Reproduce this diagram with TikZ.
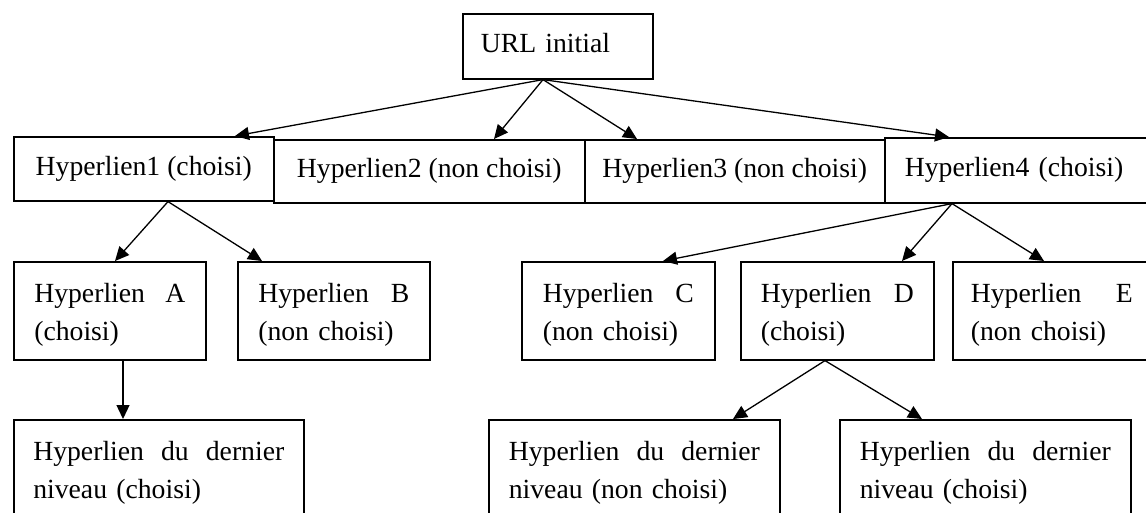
\documentclass[tikz,border=0pt]{standalone}
\usepackage{fontspec}
\setmainfont{Liberation Serif}
\usetikzlibrary{arrows.meta}

\tikzset{
  box/.style={draw, line width=1.6pt, rectangle, anchor=north west,
    inner xsep=0pt, inner ysep=0pt,
    font=\fontsize{27.7}{38}\selectfont},
  oneline/.style={box, text height=19pt, text depth=6pt},
  twoline/.style={box, text height=28pt, text depth=44pt, align=left},
  link/.style={line width=1.3pt, -{Triangle[length=14pt,width=13pt]}}
}

\begin{document}
\begin{tikzpicture}[x=1pt, y=-1pt]
\useasboundingbox (0,0) rectangle (1146,512);
\clip (0,0) rectangle (1146,512);

% root
\node[oneline, minimum width=190pt, minimum height=65pt, text width=154pt, align=left]
  (url) at (462,13) {URL initial};

% first level
\node[oneline, minimum width=260pt, minimum height=64pt] (h1) at (13,136) {Hyperlien1 (choisi)};
\node[oneline, minimum width=311pt, minimum height=63pt] (h2) at (273,139) {Hyperlien2 (non choisi)};
\node[oneline, minimum width=300pt, minimum height=63pt] (h3) at (584,139) {Hyperlien3 (non choisi)};
\node[oneline, minimum width=290pt, minimum height=65pt, text width=250pt, align=left]
  (h4) at (884,137) {Hyperlien4 (choisi)};

% second level
\node[twoline, minimum width=192pt, minimum height=98pt, text width=151pt] (a) at (13,261)
  {Hyperlien\hfill A\\(choisi)};
\node[twoline, minimum width=192pt, minimum height=98pt, text width=151pt] (b) at (237,261)
  {Hyperlien\hfill B\\(non choisi)};
\node[twoline, minimum width=193pt, minimum height=98pt, text width=151pt] (c) at (521,261)
  {Hyperlien\hfill C\\(non choisi)};
\node[twoline, minimum width=193pt, minimum height=98pt, text width=153pt] (d) at (740,261)
  {Hyperlien\hfill D\\(choisi)};
\node[twoline, minimum width=198pt, minimum height=98pt, text width=162pt] (e) at (952,261)
  {Hyperlien\hfill E\\(non choisi)};

% last level
\node[twoline, minimum width=290pt, minimum height=98pt, text width=251pt] (la) at (13,419)
  {Hyperlien\hfill du\hfill dernier\\niveau (choisi)};
\node[twoline, minimum width=291pt, minimum height=98pt, text width=251pt] (ld) at (488,419)
  {Hyperlien\hfill du\hfill dernier\\niveau (non choisi)};
\node[twoline, minimum width=291pt, minimum height=98pt, text width=251pt] (le) at (839,419)
  {Hyperlien\hfill du\hfill dernier\\niveau (choisi)};

% connectors
\draw[link] ([xshift=81pt]url.south west) -- ([xshift=222pt]h1.north west);
\draw[link] ([xshift=81pt]url.south west) -- ([xshift=221pt]h2.north west);
\draw[link] ([xshift=81pt]url.south west) -- ([xshift=53pt]h3.north west);
\draw[link] ([xshift=81pt]url.south west) -- ([xshift=65pt]h4.north west);

\draw[link] ([xshift=155pt]h1.south west) -- ([xshift=102pt]a.north west);
\draw[link] ([xshift=155pt]h1.south west) -- ([xshift=25pt]b.north west);
\draw[link] ([xshift=110pt]a.south west) -- ([xshift=110pt]la.north west);

\draw[link] ([xshift=68pt]h4.south west) -- ([xshift=142pt]c.north west);
\draw[link] ([xshift=68pt]h4.south west) -- ([xshift=162pt]d.north west);
\draw[link] ([xshift=68pt]h4.south west) -- ([xshift=92pt]e.north west);

\draw[link] ([xshift=85pt]d.south west) -- ([xshift=245pt]ld.north west);
\draw[link] ([xshift=85pt]d.south west) -- ([xshift=83pt]le.north west);
\end{tikzpicture}
\end{document}
